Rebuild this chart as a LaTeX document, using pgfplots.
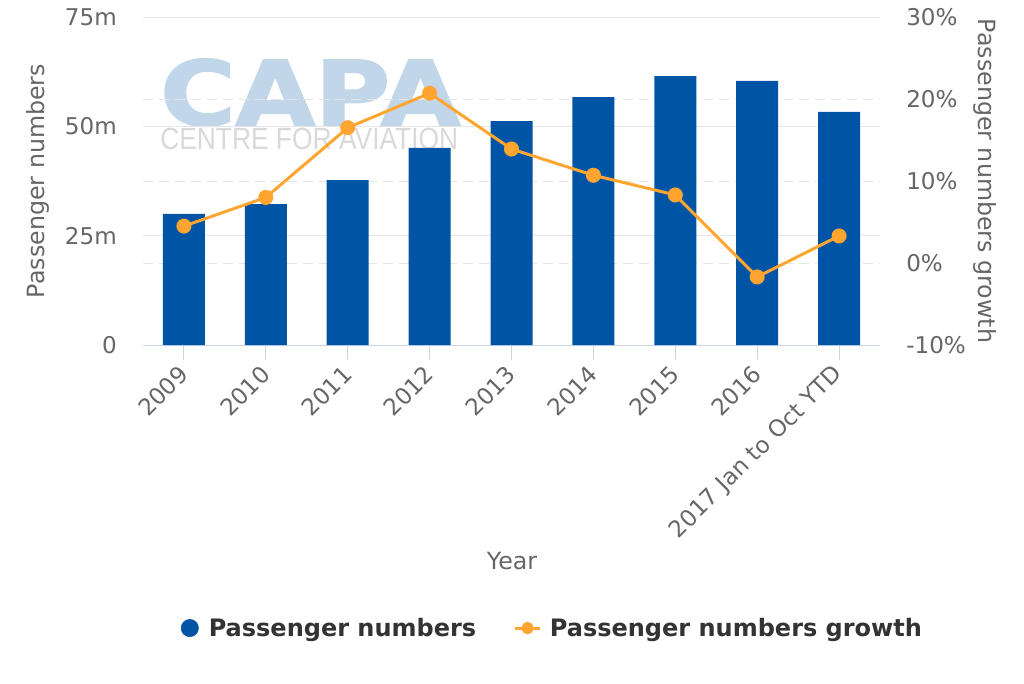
\documentclass[border=0pt]{standalone}
\usepackage{pgfplots}
\pgfplotsset{compat=1.18}
\usepackage{graphicx}
\usepackage{fontspec}
\setmainfont{DejaVu Sans}
\newfontfamily\wmfont{Liberation Sans}
\newfontface\capafont[FakeBold=2]{DejaVu Sans Bold}
\definecolor{barblue}{RGB}{0,84,166}
\definecolor{lineorange}{RGB}{255,165,48}
\definecolor{txtgrey}{RGB}{102,102,102}
\definecolor{legtxt}{RGB}{51,51,51}
\definecolor{gridgrey}{RGB}{230,230,230}
\definecolor{axisline}{RGB}{204,214,235}
\definecolor{wmblue}{RGB}{194,214,234}
\definecolor{wmgrey}{RGB}{217,217,217}

\pgfplotstableread{
x pax
0 30.0
1 32.2
2 37.7
3 45.1
4 51.2
5 56.7
6 61.5
7 60.4
8 53.3
}\paxdata
\pgfplotstableread{
x growth
0 4.5
1 8.0
2 16.5
3 20.7
4 13.9
5 10.7
6 8.3
7 -1.7
8 3.3
}\growthdata

\newcommand{\labfont}{\fontsize{17.8}{21}\selectfont}
\pgfplotsset{
  base/.style={
    at={(107.25pt,253.5pt)}, anchor=south west,
    scale only axis, width=552.75pt, height=246pt,
    xmin=-0.5, xmax=8.5,
    tick label style={font=\fontsize{17.3}{20}\selectfont, text=txtgrey},
  }
}

\begin{document}
\begin{tikzpicture}
\useasboundingbox (0,0) rectangle (768pt,512.25pt);
% watermark
\node[anchor=base west, inner sep=0pt, text=wmblue, font=\fontsize{66.9}{70}\selectfont\capafont] at (120pt,418.5pt) {\scalebox{1.15}[1]{CAPA}};
\node[anchor=base west, inner sep=0pt, text=wmgrey, font=\wmfont\fontsize{23}{26}\selectfont] at (120pt,399.75pt) {\scalebox{0.86}[1]{CENTRE FOR AVIATION}};

% right-scale background axis: dashed grid, right labels
\begin{axis}[base,
  ymin=-10, ymax=30,
  axis y line*=right, hide x axis,
  y axis line style={draw=none},
  ytick={-10,0,10,20,30},
  yticklabels={-10\%,0\%,10\%,20\%,30\%},
  ytick style={draw=none},
  major tick length=0pt,
  ymajorgrids,
  y grid style={gridgrey, line width=0.75pt, dash pattern=on 7.5pt off 4.5pt},
  yticklabel style={anchor=west, inner sep=0pt, xshift=19.5pt},
  ylabel={Passenger numbers growth},
  every axis y label/.style={at={(axis description cs:1.1425,0.5)}, rotate=-90, anchor=center, font=\labfont, text=txtgrey},
]
\end{axis}

% left axis with bars
\begin{axis}[base,
  ymin=0, ymax=75,
  axis x line*=bottom, axis y line*=left,
  y axis line style={draw=none},
  x axis line style={axisline, line width=0.75pt},
  ytick={0,25,50,75},
  yticklabels={0,25m,50m,75m},
  ytick style={draw=none},
  ymajorgrids,
  y grid style={gridgrey, line width=0.75pt},
  xtick={0,...,8},
  xticklabels={2009,2010,2011,2012,2013,2014,2015,2016,2017 Jan to Oct YTD},
  xtick style={axisline, line width=0.75pt},
  tick align=outside,
  major tick length=11pt,
  yticklabel style={anchor=east, inner sep=0pt, xshift=-8.5pt},
  xticklabel style={rotate=45, anchor=east, inner sep=0pt},
  xticklabel shift=8pt,
  xlabel={Year},
  every axis x label/.style={at={(axis description cs:0.5007,-0.6585)}, anchor=center, font=\labfont, text=txtgrey},
  ylabel={Passenger numbers},
  every axis y label/.style={at={(axis description cs:-0.1425,0.5)}, rotate=90, anchor=center, font=\labfont, text=txtgrey},
  ybar, bar width=31.5pt,
]
\addplot[fill=barblue, draw=none] table[x=x, y=pax] {\paxdata};
\end{axis}

% right-scale line axis
\begin{axis}[base,
  ymin=-10, ymax=30,
  hide axis,
  legend style={at={(axis description cs:0.556,-0.863)}, anchor=center, draw=none, fill=none,
    legend columns=2, font=\fontsize{18}{21}\selectfont\bfseries, text=legtxt,
    /tikz/every even column/.append style={column sep=26pt}},
]
\addlegendimage{legend image code/.code={\fill[barblue] (6pt,0pt) circle (6.5pt); \path (18pt,0pt);}}
\addlegendentry{Passenger numbers}
\addplot[lineorange, line width=2.25pt, mark=*, mark size=4.5pt,
  mark options={fill=lineorange, draw=lineorange},
  legend image code/.code={\draw[lineorange, line width=2.25pt] (0pt,0pt) -- (18.75pt,0pt); \fill[lineorange] (9.375pt,0pt) circle (3.5pt); \path (23pt,0pt);}]
  table[x=x, y=growth] {\growthdata};
\addlegendentry{Passenger numbers growth}
\end{axis}
\end{tikzpicture}
\end{document}
